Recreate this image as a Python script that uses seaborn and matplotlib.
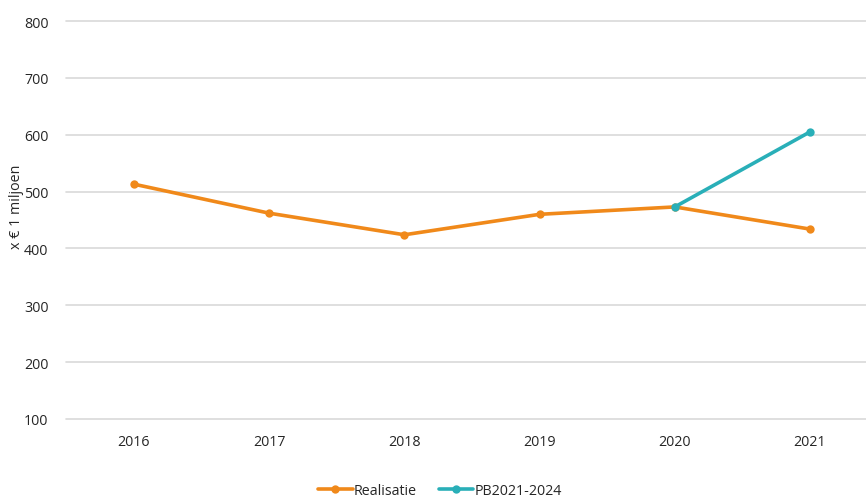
import matplotlib
matplotlib.use("Agg")
import matplotlib.pyplot as plt
import seaborn as sns
import pandas as pd
from matplotlib.lines import Line2D

years = ["2016", "2017", "2018", "2019", "2020", "2021"]
realisatie = [513, 462, 424, 460, 473, 434]
pb_years = ["2020", "2021"]
pb_values = [473, 605]
yticks = [100, 200, 300, 400, 500, 600, 700, 800]

sns.set_theme(style="white")
plt.rcParams['font.family'] = ['Open Sans', 'DejaVu Sans']

orange = "#F0891A"
teal = "#29AFB8"
txt = "#262626"
fs = 10.3

df = pd.concat([
    pd.DataFrame({"jaar": years, "waarde": realisatie, "reeks": "Realisatie"}),
    pd.DataFrame({"jaar": pb_years, "waarde": pb_values, "reeks": "PB2021-2024"}),
])
df["x"] = df["jaar"].map({y: i for i, y in enumerate(years)})

fig = plt.figure(figsize=(8.66, 5.02), dpi=100)
ax = fig.add_axes([66.4 / 866, 82 / 502, 811.2 / 866, 398 / 502])

sns.lineplot(data=df, x="x", y="waarde", hue="reeks",
             palette={"Realisatie": orange, "PB2021-2024": teal},
             marker="o", markersize=6, markeredgewidth=0, linewidth=2.6,
             ax=ax, legend=False, sort=False)

ax.set_xlim(-0.5, len(years) - 0.5)
ax.set_ylim(100, 800)
ax.set_yticks(yticks)
ax.set_yticklabels([str(t) for t in yticks])
ax.set_xticks(range(len(years)))
ax.set_xticklabels(years)
ax.tick_params(axis="both", length=0, labelsize=fs, colors=txt)
ax.tick_params(axis="y", pad=13)
ax.tick_params(axis="x", pad=11)
ax.yaxis.grid(True, color="#D9D9D9", linewidth=1.2)
ax.xaxis.grid(False)
ax.set_axisbelow(True)
for gl in ax.get_ygridlines():
    gl.set_clip_on(False)
for s in ax.spines.values():
    s.set_visible(False)
ax.set_xlabel("")
ax.set_ylabel("")

fig.text(17 / 866, 1 - 207 / 502, "x € 1 miljoen", rotation=90,
         ha="center", va="center", fontsize=fs, color=txt)

handles = [
    Line2D([], [], color=orange, marker="o", markersize=6, markeredgewidth=0, linewidth=2.6),
    Line2D([], [], color=teal, marker="o", markersize=6, markeredgewidth=0, linewidth=2.6),
]
fig.legend(handles, ["Realisatie", "PB2021-2024"], loc="center",
           bbox_to_anchor=(440 / 866, 1 - 492 / 502), ncol=2, frameon=False,
           fontsize=fs, handlelength=2.4, handletextpad=0.1, columnspacing=1.5,
           labelcolor=txt)

fig.savefig("out.png", dpi=100)
